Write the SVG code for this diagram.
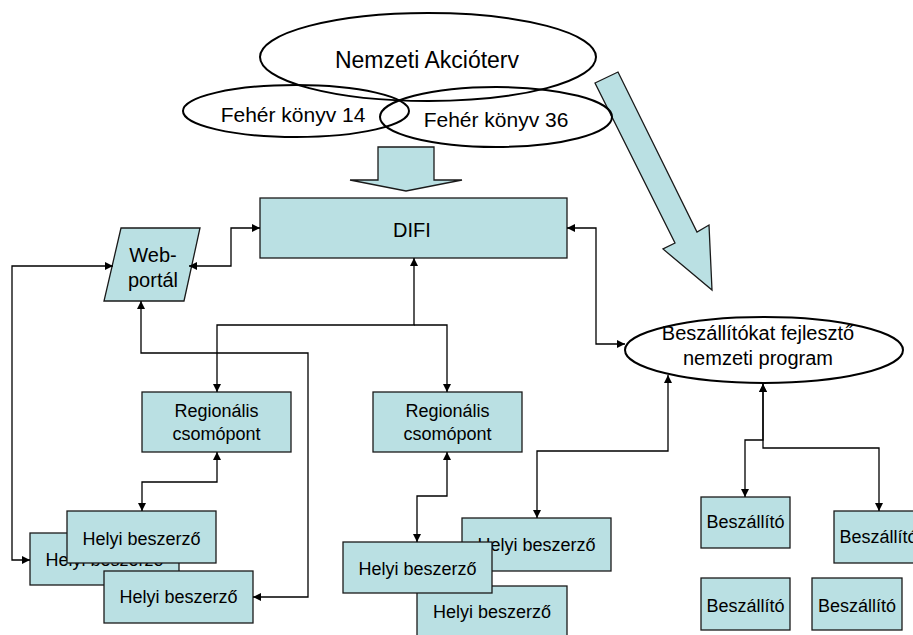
<svg xmlns="http://www.w3.org/2000/svg" width="913" height="635" viewBox="0 0 913 635">
<defs>
<style>
.box{fill:#bae0e3;stroke:#1a1a1a;stroke-width:1.3}
.ell{fill:none;stroke:#000;stroke-width:2}
.t{font-family:"Liberation Sans",Arial,sans-serif;fill:#000;text-anchor:middle}
.f18{font-size:18px}
.f20{font-size:20px}
.f21{font-size:21px}
.f23{font-size:23px}
.con{fill:none;stroke:#000;stroke-width:1.3;marker-end:url(#ah)}
.both{marker-start:url(#ah)}
</style>
<marker id="ah" markerUnits="userSpaceOnUse" markerWidth="9" markerHeight="8" refX="8" refY="4" orient="auto-start-reverse">
<path d="M0,0 L8,4 L0,8 z" fill="#000"/>
</marker>
</defs>
<rect width="913" height="635" fill="#fff"/>

<g id="big-arrow">
<polygon class="box" points="595,83 618,72 697,232 709,225 712,290 663,249 675,243"/>
</g>
<g id="down-arrow">
<polygon class="box" points="378,147 434,147 434,180 462,180 406,191 350,180 378,180"/>
</g>

<g id="nemzeti">
<ellipse class="ell" cx="428" cy="57" rx="168" ry="44"/>
<text class="t f23" x="427" y="68">Nemzeti Akcióterv</text>
</g>
<g id="feher14">
<ellipse class="ell" cx="296" cy="111" rx="113" ry="26"/>
<text class="t f21" x="293" y="122">Fehér könyv 14</text>
</g>
<g id="feher36">
<ellipse class="ell" cx="496" cy="117" rx="116" ry="30"/>
<text class="t f21" x="496" y="127">Fehér könyv 36</text>
</g>

<g id="difi">
<rect class="box" x="260" y="198" width="307" height="60"/>
<text class="t f20" x="412" y="237">DIFI</text>
</g>
<g id="webportal">
<polygon class="box" points="121,228 200,228 184,301 104,301"/>
<text class="t f20" x="153" y="262">Web-</text>
<text class="t f20" x="153" y="287">portál</text>
</g>
<g id="program">
<ellipse class="ell" cx="764" cy="350" rx="139" ry="33" fill="#fff"/>
<text class="t f20" x="758" y="340">Beszállítókat fejlesztő</text>
<text class="t f20" x="758" y="365">nemzeti program</text>
</g>

<g id="regional1">
<rect class="box" x="142" y="392" width="149" height="60"/>
<text class="t f18" x="216.5" y="417">Regionális</text>
<text class="t f18" x="216.5" y="440">csomópont</text>
</g>
<g id="regional2">
<rect class="box" x="373" y="392" width="149" height="60"/>
<text class="t f18" x="447.5" y="417">Regionális</text>
<text class="t f18" x="447.5" y="440">csomópont</text>
</g>

<g id="helyi1-back">
<rect class="box" x="30" y="533" width="149" height="52"/>
<text class="t f18" x="104.5" y="566">Helyi beszerző</text>
</g>
<g id="helyi1-front">
<rect class="box" x="67" y="511" width="149" height="52"/>
<text class="t f18" x="141.5" y="545">Helyi beszerző</text>
</g>
<g id="helyi1-low">
<rect class="box" x="104" y="571" width="149" height="52"/>
<text class="t f18" x="178.5" y="603">Helyi beszerző</text>
</g>

<g id="helyi2-back">
<rect class="box" x="462" y="518" width="149" height="53"/>
<text class="t f18" x="536.5" y="551">Helyi beszerző</text>
</g>
<g id="helyi2-low">
<rect class="box" x="417" y="586" width="150" height="54"/>
<text class="t f18" x="492" y="618">Helyi beszerző</text>
</g>
<g id="helyi2-front">
<rect class="box" x="343" y="542" width="149" height="51"/>
<text class="t f18" x="417.5" y="575">Helyi beszerző</text>
</g>

<g id="beszallito1">
<rect class="box" x="701" y="497" width="89" height="51"/>
<text class="t f18" x="745.5" y="528">Beszállító</text>
</g>
<g id="beszallito2">
<rect class="box" x="834" y="511" width="89" height="52"/>
<text class="t f18" x="878.5" y="543">Beszállító</text>
</g>
<g id="beszallito3">
<rect class="box" x="701" y="578" width="89" height="52"/>
<text class="t f18" x="745.5" y="612">Beszállító</text>
</g>
<g id="beszallito4">
<rect class="box" x="812" y="578" width="90" height="52"/>
<text class="t f18" x="857" y="612">Beszállító</text>
</g>

<g id="connectors">
<path class="con both" d="M189,266 H231 V228 H260"/>
<path class="con both" d="M113,266 H12 V560 H30"/>
<path class="con both" d="M141,301 V353 H308 V597 H253"/>
<path class="con both" d="M414,258 V325 H217 V392"/>
<path class="con" d="M414,325 H447 V392"/>
<path class="con both" d="M217,452 V482 H142 V511"/>
<path class="con both" d="M447,452 V496 H417 V542"/>
<path class="con both" d="M567,228 H596 V344 H625"/>
<path class="con both" d="M668,375 V451 H537 V518"/>
<path class="con both" d="M763,384 V440 H745 V497"/>
<path class="con both" d="M763,384 V448 H879 V511"/>
</g>
</svg>
